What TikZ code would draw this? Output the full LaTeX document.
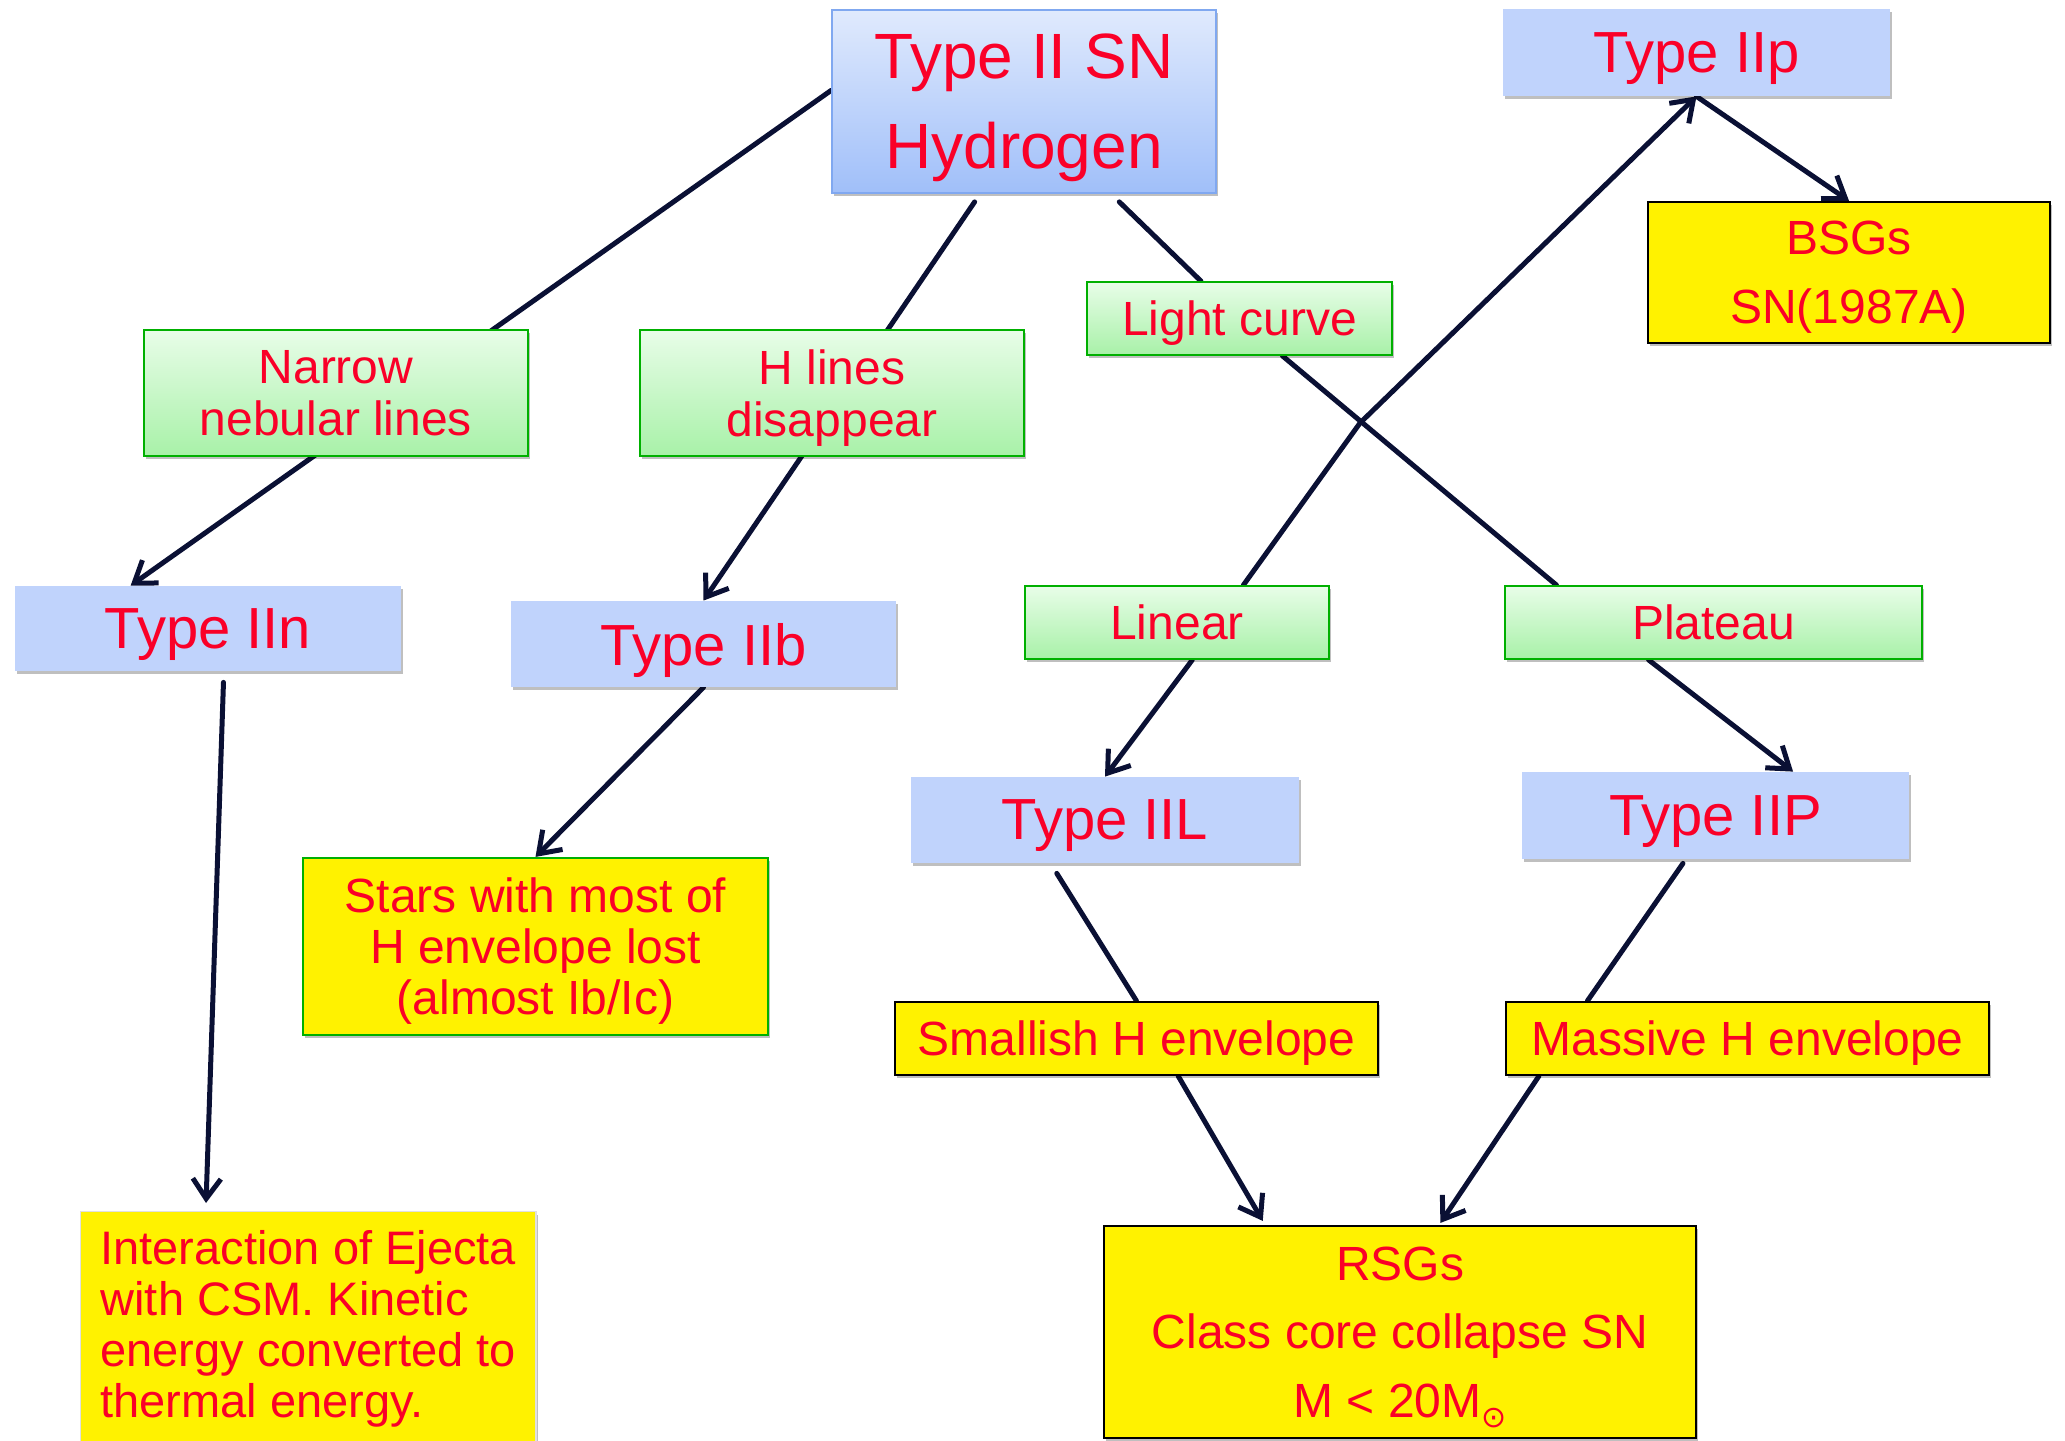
\documentclass[tikz,border=0pt]{standalone}
\usepackage{fontspec}
\setmainfont{Liberation Sans}
\newfontfamily\symfont{DejaVu Sans}
\usetikzlibrary{calc,arrows.meta,shadows,backgrounds}
\definecolor{txtred}{RGB}{250,0,40}
\definecolor{typeblue}{RGB}{192,211,252}
\definecolor{sntop}{RGB}{224,234,253}
\definecolor{snbot}{RGB}{160,191,249}
\definecolor{snborder}{RGB}{128,168,240}
\definecolor{gtop}{RGB}{232,253,232}
\definecolor{gbot}{RGB}{168,241,168}
\definecolor{gborder}{RGB}{0,176,0}
\definecolor{linec}{RGB}{10,16,52}
\newcommand{\bxnode}[7]{\node[#6, minimum width={(#4-#2)*0.5}, minimum height={(#5-#3)*0.5}] (#1) at ({(#2+#4)/2},{(#3+#5)/2}) {#7};}
\begin{document}
\begin{tikzpicture}[x=0.5pt,y=-0.5pt,
  shad/.style={drop shadow={shadow xshift=1pt,shadow yshift=-1.5pt,fill=black,opacity=0.25}},
  tbox/.style={fill=typeblue, inner sep=0pt, text=txtred, text depth=0pt, font=\fontsize{29}{34}\selectfont, shad},
  snbox/.style={top color=sntop, bottom color=snbot, draw=snborder, line width=0.9pt, inner sep=0pt, text=txtred, text depth=0pt, align=center, font=\fontsize{32}{45}\selectfont, shad},
  gbox/.style={top color=gtop, bottom color=gbot, draw=gborder, line width=0.9pt, inner sep=0pt, text=txtred, text depth=0pt, align=center, font=\fontsize{24}{26}\selectfont, shad},
  ybox/.style={fill=yellow, draw=black, line width=1.1pt, inner sep=0pt, text=txtred, text depth=0pt, align=center, font=\fontsize{24}{34.5}\selectfont, shad},
  conn/.style={draw=linec, line width=2.5pt, line cap=round},
  arr/.style={conn, -{Straight Barb[length=10pt,width=14pt,line width=2.5pt]}}]
\useasboundingbox (0,0) rectangle (2065,1440);

\bxnode{sn}{832}{10}{1216}{193}{snbox}{Type II SN\\Hydrogen}
\bxnode{iipsmall}{1503}{9}{1890}{96}{tbox}{Type IIp}
\bxnode{bsg}{1648}{202}{2050}{343}{ybox}{BSGs\\SN(1987A)}
\bxnode{nar}{144}{330}{528}{456}{gbox}{Narrow\\nebular lines}
\bxnode{hl}{640}{330}{1024}{456}{gbox}{H lines\\disappear}
\bxnode{lc}{1087}{282}{1392}{355}{gbox}{Light curve}
\bxnode{iin}{15}{586}{401}{671}{tbox}{Type IIn}
\bxnode{iib}{511}{601}{896}{687}{tbox}{Type IIb}
\bxnode{lin}{1025}{586}{1329}{659}{gbox}{Linear}
\bxnode{plat}{1505}{586}{1922}{659}{gbox}{Plateau}
\bxnode{iil}{911}{777}{1299}{863}{tbox}{Type IIL}
\bxnode{iipbig}{1522}{772}{1909}{859}{tbox}{Type IIP}
\bxnode{stars}{303}{858}{768}{1035}{ybox,draw=gborder,font=\fontsize{24}{25.5}\selectfont}{Stars with most of\\H envelope lost\\(almost Ib/Ic)}
\bxnode{sm}{895}{1002}{1378}{1075}{ybox}{Smallish H envelope}
\bxnode{ma}{1506}{1002}{1989}{1075}{ybox}{Massive H envelope}
\bxnode{rsg}{1104}{1226}{1696}{1438}{ybox,font=\fontsize{24}{34.3}\selectfont}{RSGs\\Class core collapse SN\\M < 20M\raisebox{-5pt}{\symfont\fontsize{15}{15}\selectfont ⊙}}
\node[fill=yellow, draw=black!12, line width=0.6pt, anchor=north west, inner xsep=10pt, inner ysep=9.5pt, align=left, text=txtred, font=\fontsize{23.5}{25.5}\selectfont, shad] (ej) at (80,1211) {Interaction of Ejecta\\with CSM. Kinetic\\energy converted to\\thermal energy.};

\coordinate (bend) at (1360,423);

\begin{scope}[on background layer]
\draw[arr] ($(sn.north west)!0.44!(sn.south west)$) -- ($(iin.north west)!0.3!(iin.north east)$);
\draw[arr] ($(sn.south west)!0.372!(sn.south east)+(0,8)$) -- (iib.north);
\draw[conn] ($(sn.south west)!0.747!(sn.south east)+(0,8)$) -- (lc);
\draw[conn] ($(lc.south west)!0.64!(lc.south east)$) -- ($(plat.north west)!0.125!(plat.north east)$);
\draw[arr] ($(lin.north west)!0.717!(lin.north east)$) -- (bend) -- (iipsmall.south);
\draw[arr] (iipsmall.south) -- (bsg.north);
\draw[arr] ($(iin.south west)!0.54!(iin.south east)+(0,11)$) -- ($(ej.north west)!0.276!(ej.north east)+(0,-8)$);
\draw[arr] (iib.south) -- (stars.north);
\draw[arr] ($(lin.south west)!0.55!(lin.south east)$) -- (iil.north);
\draw[arr] ($(plat.south west)!0.345!(plat.south east)$) -- ($(iipbig.north west)!0.70!(iipbig.north east)$);
\draw[conn] ($(iil.south west)!0.376!(iil.south east)+(0,10)$) -- (sm.north);
\draw[conn] ($(iipbig.south west)!0.416!(iipbig.south east)+(0,4)$) -- ($(ma.north west)!0.17!(ma.north east)$);
\draw[arr] ($(sm.south west)!0.586!(sm.south east)$) -- ($(rsg.north west)!0.269!(rsg.north east)+(0,-4)$);
\draw[arr] ($(ma.south west)!0.07!(ma.south east)$) -- ($(rsg.north west)!0.568!(rsg.north east)+(0,-2)$);
\end{scope}
\end{tikzpicture}
\end{document}
